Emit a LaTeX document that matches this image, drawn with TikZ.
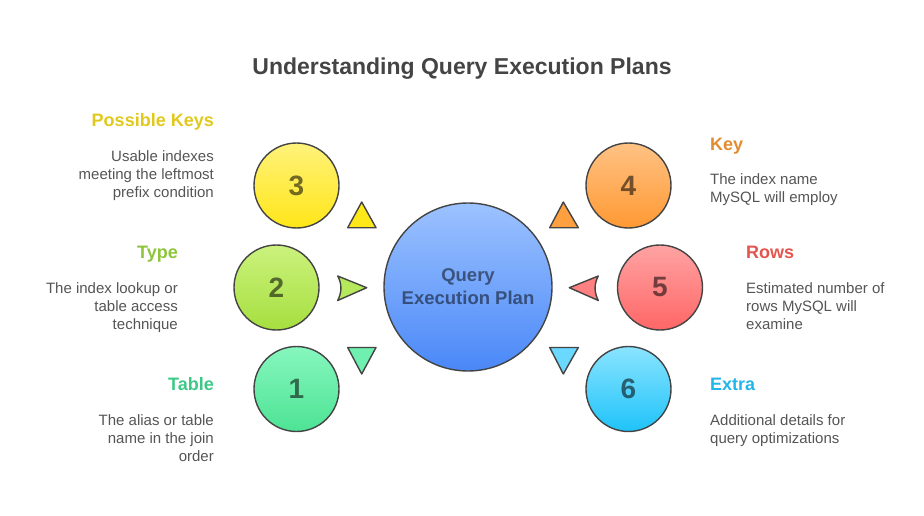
\documentclass[tikz,border=0pt]{standalone}
\usepackage{fontspec}
\setmainfont{Liberation Sans}
\definecolor{outl}{HTML}{444444}
\definecolor{titlec}{HTML}{444444}
\definecolor{descc}{HTML}{555555}
\definecolor{yT}{HTML}{FFF27A}\definecolor{yB}{HTML}{FFE619}\definecolor{yF}{HTML}{FFE81A}\definecolor{yL}{HTML}{E0C91C}
\definecolor{gT}{HTML}{CBF27D}\definecolor{gB}{HTML}{A6DF3F}\definecolor{gF}{HTML}{B5E85A}\definecolor{gL}{HTML}{8DC43A}
\definecolor{mT}{HTML}{86F7BE}\definecolor{mB}{HTML}{4DE394}\definecolor{mF}{HTML}{6FF0B0}\definecolor{mL}{HTML}{3DC985}
\definecolor{oT}{HTML}{FFC284}\definecolor{oB}{HTML}{FF9933}\definecolor{oF}{HTML}{FFA040}\definecolor{oL}{HTML}{E38B2F}
\definecolor{rT}{HTML}{FFA3A3}\definecolor{rB}{HTML}{FF6666}\definecolor{rF}{HTML}{FF8080}\definecolor{rL}{HTML}{E5544F}
\definecolor{cT}{HTML}{8AE4FF}\definecolor{cB}{HTML}{1FC3F9}\definecolor{cF}{HTML}{6AD8FF}\definecolor{cL}{HTML}{23B5E8}
\definecolor{bT}{HTML}{9CC2FF}\definecolor{bB}{HTML}{4A88F8}
\tikzset{
  numcirc/.style={circle, draw=outl, line width=1.4pt, minimum size=85pt, inner sep=0pt,
    font=\fontsize{28}{30}\selectfont\bfseries, text=black, text opacity=0.55},
  tri/.style={draw=outl, line width=1.4pt, line join=round},
  lab/.style={inner sep=0pt, font=\fontsize{18}{20}\selectfont\bfseries},
  desc/.style={inner sep=0pt, text=descc, font=\fontsize{15}{18}\selectfont},
}
\begin{document}
\begin{tikzpicture}[x=1pt,y=-1pt]
\useasboundingbox (0,0) rectangle (924,516);
\node[inner sep=0pt, text=titlec, font=\fontsize{23}{26}\selectfont\bfseries, anchor=base] (title) at (462,75) {Understanding Query Execution Plans};

% center
\node[circle, draw=outl, line width=1.4pt, minimum size=168pt, inner sep=0pt, top color=bT, bottom color=bB,
  align=center, font=\fontsize{18.5}{23}\selectfont\bfseries, text=black, text opacity=0.5] (center) at (468,287) {Query\\Execution Plan};

% circles
\node[numcirc, top color=yT, bottom color=yB] (c3) at (296.5,185.5) {3};
\node[numcirc, top color=gT, bottom color=gB] (c2) at (276.5,287.5) {2};
\node[numcirc, top color=mT, bottom color=mB] (c1) at (296.5,389) {1};
\node[numcirc, top color=oT, bottom color=oB] (c4) at (628.5,185.5) {4};
\node[numcirc, top color=rT, bottom color=rB] (c5) at (660,287.5) {5};
\node[numcirc, top color=cT, bottom color=cB] (c6) at (628.5,389) {6};

% triangles
\draw[tri, fill=yF] (361.7,202) -- (376,227.7) -- (347.7,227.7) -- cycle;
\draw[tri, fill=oF] (563.3,202) -- (578.3,227.7) -- (549.7,227.7) -- cycle;
\draw[tri, fill=mF] (347.7,347.5) -- (376,347.5) -- (361.7,374) -- cycle;
\draw[tri, fill=cF] (549.7,347.5) -- (578.3,347.5) -- (563.3,374) -- cycle;
\draw[tri, fill=gF] (366.7,287.7) -- (337.7,276) .. controls (342,284) and (342,292) .. (337.7,300.5) -- cycle;
\draw[tri, fill=rF] (569.3,287.7) -- (598.3,276) .. controls (594,284) and (594,292) .. (598.3,300.5) -- cycle;

% left labels
\node[lab, text=yL, anchor=base east] (l3) at (214,126.5) {Possible Keys};
\node[desc, align=right, anchor=north east] (d3) at (214,150) {Usable indexes\\meeting the leftmost\\prefix condition};
\node[lab, text=gL, anchor=base east] (l2) at (178,258.5) {Type};
\node[desc, align=right, anchor=north east] (d2) at (178,282) {The index lookup or\\table access\\technique};
\node[lab, text=mL, anchor=base east] (l1) at (214,390.5) {Table};
\node[desc, align=right, anchor=north east] (d1) at (214,414) {The alias or table\\name in the join\\order};

% right labels
\node[lab, text=oL, anchor=base west] (l4) at (710,150.5) {Key};
\node[desc, align=left, anchor=north west] (d4) at (710,173) {The index name\\MySQL will employ};
\node[lab, text=rL, anchor=base west] (l5) at (746,258.5) {Rows};
\node[desc, align=left, anchor=north west] (d5) at (746,282) {Estimated number of\\rows MySQL will\\examine};
\node[lab, text=cL, anchor=base west] (l6) at (710,390.5) {Extra};
\node[desc, align=left, anchor=north west] (d6) at (710,414) {Additional details for\\query optimizations};
\end{tikzpicture}
\end{document}
